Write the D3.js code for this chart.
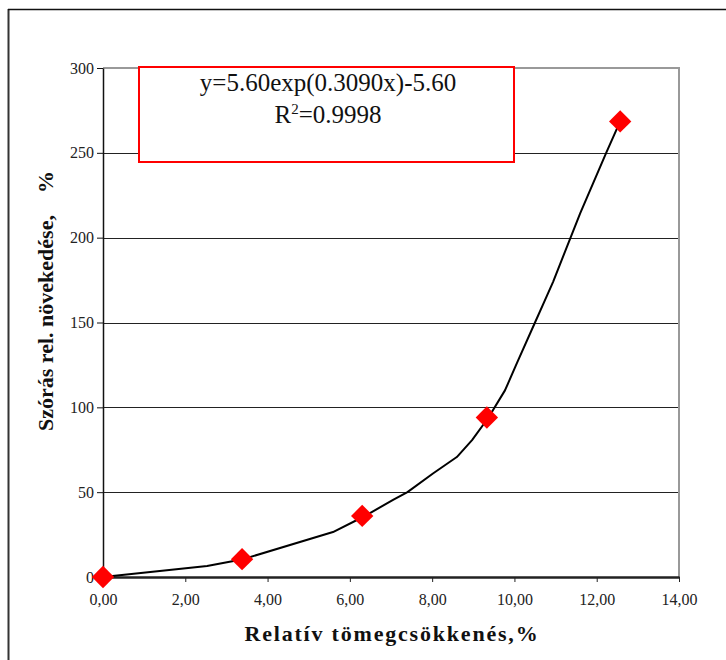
<!DOCTYPE html>
<html>
<head>
<meta charset="utf-8">
<script src="https://cdn.jsdelivr.net/npm/d3@7"></script>
<style>
  body { margin: 0; background: #fff; }
  svg { display: block; font-family: "Liberation Serif", "Times New Roman", serif; }
</style>
</head>
<body>
<svg></svg>
<script>
// measured points (relative mass loss %, relative std increase %)
var pointX = [0, 3.38, 6.3, 9.33, 12.57];
var pointY = [0, 10.5, 36, 94, 268.5];

// trend line
var lineX = [0, 2.53, 3.4, 5.59, 6.33, 7.05, 7.4, 8.02, 8.6, 8.97, 9.37, 9.77, 10.06, 10.5, 10.74, 10.94, 11.6, 12.23, 12.57];
var lineY = [0, 6.5, 10.5, 26.5, 35.5, 45.4, 50, 61, 70.7, 80.7, 94, 110, 126, 150, 163, 174, 214.5, 250, 268.5];

var xTicks = [0, 2, 4, 6, 8, 10, 12, 14];
var yTicks = [0, 50, 100, 150, 200, 250, 300];

var width = 726;
var height = 660;
var padLeft = 103, padRight = 679, padTop = 68, padBottom = 577;

var svg = d3.select('svg')
  .attr('width', width)
  .attr('height', height);

// outer frame (left + top only visible)
svg.append('line')
  .attr('x1', 8.5).attr('x2', 8.5).attr('y1', 9).attr('y2', height)
  .attr('stroke', '#333').attr('stroke-width', 2);
svg.append('line')
  .attr('x1', 8).attr('x2', width).attr('y1', 9.5).attr('y2', 9.5)
  .attr('stroke', '#111').attr('stroke-width', 1.5);

var xScale = d3.scaleLinear().domain([0, 14]).range([padLeft, padRight]);
var yScale = d3.scaleLinear().domain([0, 300]).range([padBottom, padTop]);

// gridlines
svg.append('g')
  .selectAll('line')
  .data(yTicks.filter(d => d > 0 && d < 300))
  .enter()
  .append('line')
    .attr('x1', padLeft).attr('x2', padRight)
    .attr('y1', d => Math.round(yScale(d)) + 0.5)
    .attr('y2', d => Math.round(yScale(d)) + 0.5)
    .attr('stroke', '#222').attr('stroke-width', 1);

// gray top / right border of plot area
svg.append('line')
  .attr('x1', padLeft).attr('x2', padRight + 1)
  .attr('y1', yScale(300)).attr('y2', yScale(300))
  .attr('stroke', '#999').attr('stroke-width', 2);
svg.append('line')
  .attr('x1', padRight).attr('x2', padRight)
  .attr('y1', yScale(300)).attr('y2', padBottom)
  .attr('stroke', '#999').attr('stroke-width', 2);

// axes
var xAxis = d3.axisBottom(xScale)
  .tickValues(xTicks)
  .tickSize(5)
  .tickSizeOuter(0)
  .tickFormat(d => d3.format('.2f')(d).replace('.', ','));

var yAxis = d3.axisLeft(yScale)
  .tickValues(yTicks)
  .tickSize(6)
  .tickSizeOuter(0)
  .tickFormat(d3.format('d'));

var gx = svg.append('g')
  .attr('transform', `translate(0, ${padBottom})`)
  .call(xAxis);
gx.select('.domain').attr('stroke', '#222').attr('stroke-width', 2.5);
gx.selectAll('.tick line').attr('stroke', '#222');
gx.selectAll('text')
  .attr('y', 17)
  .attr('font-size', 16)
  .attr('font-family', '"Liberation Serif", serif')
  .attr('fill', '#222');

var gy = svg.append('g')
  .attr('transform', `translate(${padLeft}, 0)`)
  .call(yAxis);
gy.select('.domain').attr('stroke', '#111').attr('stroke-width', 1.5);
gy.selectAll('.tick line').attr('stroke', '#111');
gy.selectAll('text')
  .attr('x', -9)
  .attr('font-size', 16)
  .attr('font-family', '"Liberation Serif", serif')
  .attr('fill', '#222');

// trend line
var lineData = lineX.map((x, i) => ({x: x, y: lineY[i]}));
var line = d3.line()
  .x(d => xScale(d.x))
  .y(d => yScale(d.y))
  .curve(d3.curveLinear);

svg.append('path')
  .datum(lineData)
  .attr('d', line)
  .attr('fill', 'none')
  .attr('stroke', '#000')
  .attr('stroke-width', 2)
  .attr('stroke-linejoin', 'round');

// markers
var points = pointX.map((x, i) => ({x: x, y: pointY[i]}));
var diamond = d3.symbol().type(d3.symbolSquare).size(250);

svg.append('g')
  .selectAll('path')
  .data(points)
  .enter()
  .append('path')
    .attr('d', diamond)
    .attr('transform', d => `translate(${xScale(d.x)}, ${yScale(d.y)}) rotate(45)`)
    .attr('fill', '#ff0000');

// equation box
svg.append('rect')
  .attr('x', 139).attr('y', 67)
  .attr('width', 375).attr('height', 95)
  .attr('fill', '#fff')
  .attr('stroke', '#ff0000')
  .attr('stroke-width', 2);

svg.append('text')
  .attr('x', 328).attr('y', 91)
  .attr('text-anchor', 'middle')
  .attr('font-size', 25)
  .attr('fill', '#111')
  .text('y=5.60exp(0.3090x)-5.60');

var r2 = svg.append('text')
  .attr('x', 328).attr('y', 123)
  .attr('text-anchor', 'middle')
  .attr('font-size', 25)
  .attr('fill', '#111');
r2.append('tspan').text('R');
r2.append('tspan').attr('font-size', 15).attr('dy', -9).text('2');
r2.append('tspan').attr('dy', 9).text('=0.9998');

// x-axis title
svg.append('text')
  .attr('x', 392).attr('y', 641)
  .attr('text-anchor', 'middle')
  .attr('font-size', 22)
  .attr('font-weight', 'bold')
  .attr('letter-spacing', 1.8)
  .attr('fill', '#111')
  .text('Relatív tömegcsökkenés,%');

// y-axis title
svg.append('text')
  .attr('transform', 'translate(53, 301) rotate(-90)')
  .attr('text-anchor', 'middle')
  .attr('font-size', 22)
  .attr('font-weight', 'bold')
  .attr('fill', '#111')
  .style('white-space', 'pre')
  .text('Szórás rel. növekedése,    %');
</script>
</body>
</html>
